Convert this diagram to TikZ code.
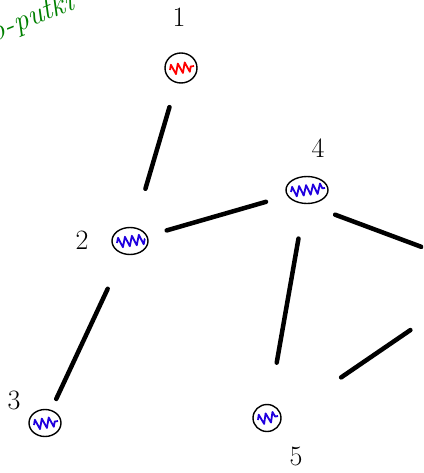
\documentclass[tikz,border=0pt]{standalone}
\usepackage{xcolor}
\usepackage{tikz}
\usetikzlibrary{shapes.geometric,decorations.pathmorphing}

\begin{document}
\begin{tikzpicture}[x=1pt, y=-1pt,
            vertex/.style={ellipse, draw, line width=1.4pt, minimum width=32pt,
            minimum height=27pt, inner sep=0pt,
            path picture={\draw[#1, line width=1.8pt, line join=round, decorate,
                decoration={zigzag, segment length=7pt, amplitude=5pt}]
                ([xshift=5pt,yshift=-2pt]path picture bounding box.west) --
                ([xshift=-3pt,yshift=2pt]path picture bounding box.east);}},
            nummer/.style={font=\fontsize{28}{30}\selectfont, inner sep=0pt},
            kante/.style={line width=4.5pt, line cap=round},
        ]
            \useasboundingbox (0,0) rectangle (423,473);
            \clip (0,0) rectangle (423,473);

            %% Knoten
            \node[vertex=red, minimum height=30pt] (n1) at (181,68)  {};
            \node[vertex=blue!75!violet, minimum width=36pt] (n2) at (130,241) {};
            \node[vertex=blue!75!violet, minimum width=42pt] (n4) at (307,190) {};
            \node[vertex=blue!75!violet] (n3) at (45,423)  {};
            \node[vertex=blue!75!violet, minimum width=28pt] (n5) at (267,418) {};

            %% Nummern
            \node[nummer] (l1) at (179,17)  {1};
            \node[nummer] (l2) at (82,240)  {2};
            \node[nummer] (l4) at (318,148) {4};
            \node[nummer] (l3) at (14,400)  {3};
            \node[nummer] (l5) at (296,456) {5};

            %% Kanten nach aussen
            \coordinate (r1) at (470,265);
            \coordinate (r2) at (450,303);

            %% Kanten
            \draw[kante, shorten <=25pt, shorten >=40pt] (n1) -- (n2);
            \draw[kante, shorten <=20pt, shorten >=22pt] (n2) -- (n4);
            \draw[kante, shorten <=38pt, shorten >=12pt] (n2) -- (n3);
            \draw[kante, shorten <=35pt, shorten >=42pt] (n4) -- (n5);
            \draw[kante, shorten <=30pt, shorten >=52pt] (n4.south) -- (r1);
            \draw[kante, shorten <=72pt, shorten >=48pt] (n5.east) -- (r2);

            %% Notiz
            \node[text=green!50!black, font=\fontsize{30}{32}\selectfont\itshape,
            rotate=22, anchor=south west] (notiz) at (-6,52) {o-putki};
        \end{tikzpicture}
\end{document}
